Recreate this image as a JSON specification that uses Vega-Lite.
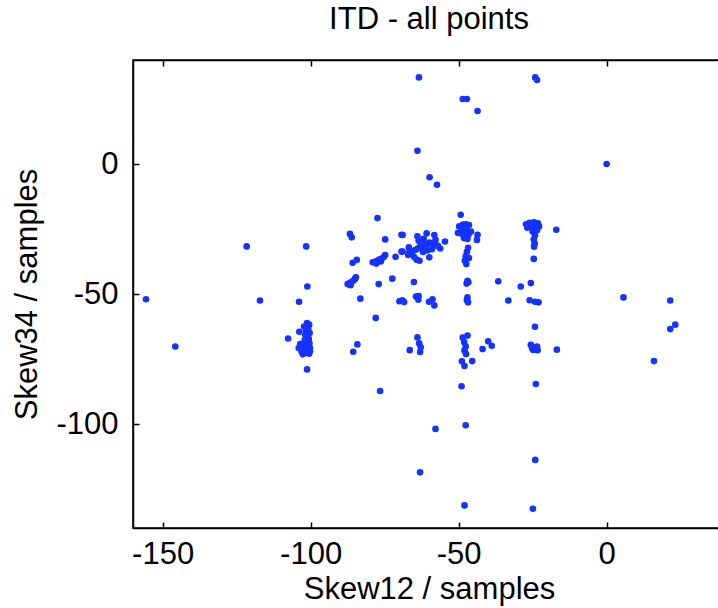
{
  "$schema": "https://vega.github.io/schema/vega-lite/v6.json",
  "autosize": {"type": "none"},
  "padding": {"left": 133, "top": 60, "right": -7, "bottom": 80},
  "width": 592,
  "height": 468,
  "background": "white",
  "config": {
    "view": {"stroke": "black", "strokeWidth": 1.5},
    "font": "Liberation Sans",
    "axis": {"grid": false, "domainColor": "black", "domainWidth": 1.5, "tickColor": "black", "tickWidth": 1.5, "tickSize": -6, "labelColor": "black", "titleColor": "black", "labelFont": "Liberation Sans", "titleFont": "Liberation Sans", "labelFontSize": 31, "titleFontSize": 31, "titleFontWeight": "normal"}
  },
  "title": {"text": "ITD - all points", "font": "Liberation Sans", "fontSize": 31, "fontWeight": "normal", "color": "black", "anchor": "middle", "baseline": "alphabetic", "offset": -1},
  "data": {"values": [
    {"x": -155.6, "y": -52}, {"x": -145.7, "y": -70.2}, {"x": -121.6, "y": -31.7}, {"x": -117.1, "y": -52.5}, {"x": -107.6, "y": -67.1}, {"x": -103.9, "y": -53}, {"x": -101.5, "y": -31.7}, {"x": -101.1, "y": -47.1}, {"x": -101.2, "y": -79},
    {"x": -101.2, "y": -61.2}, {"x": -100.5, "y": -61.8}, {"x": -102.2, "y": -62.5}, {"x": -100.8, "y": -63.2}, {"x": -101.5, "y": -64}, {"x": -103.8, "y": -64.5}, {"x": -100.3, "y": -65}, {"x": -101.8, "y": -65.8}, {"x": -101, "y": -66.5}, {"x": -100.6, "y": -67.3}, {"x": -102, "y": -67.8}, {"x": -101.2, "y": -68.4}, {"x": -100.4, "y": -69}, {"x": -103.5, "y": -69.3}, {"x": -101.8, "y": -69.8}, {"x": -100.9, "y": -70.4}, {"x": -104, "y": -70.8}, {"x": -102.4, "y": -71.2}, {"x": -101, "y": -71.5}, {"x": -100.2, "y": -72}, {"x": -103, "y": -72.3}, {"x": -101.7, "y": -72.6}, {"x": -100.5, "y": -73}, {"x": -102.6, "y": -73.2}, {"x": -101.4, "y": -63.3}, {"x": -100.2, "y": -70.8},
    {"x": -86.7, "y": -26.9}, {"x": -86.1, "y": -28.2}, {"x": -77.4, "y": -20.8}, {"x": -74.8, "y": -29}, {"x": -69.3, "y": -27.2}, {"x": -85.8, "y": -38}, {"x": -84.4, "y": -36.9},
    {"x": -79, "y": -37.8}, {"x": -78.2, "y": -37.6}, {"x": -77.5, "y": -37.2}, {"x": -76.8, "y": -36.8}, {"x": -76, "y": -36.4}, {"x": -75.3, "y": -35.8}, {"x": -74.8, "y": -35}, {"x": -77.8, "y": -38.3}, {"x": -76.3, "y": -37.5},
    {"x": -71.3, "y": -35.7}, {"x": -69.3, "y": -33.7}, {"x": -66.7, "y": -34.2},
    {"x": -87.5, "y": -46.2}, {"x": -86.8, "y": -45.8}, {"x": -86.2, "y": -45.4}, {"x": -85.5, "y": -44.8}, {"x": -85, "y": -44.2}, {"x": -84.7, "y": -43.6}, {"x": -86.5, "y": -46.6},
    {"x": -77, "y": -46.2}, {"x": -72.4, "y": -44.1}, {"x": -65.1, "y": -45.4}, {"x": -83.2, "y": -51.8},
    {"x": -70, "y": -52.8}, {"x": -69, "y": -52.4}, {"x": -68.4, "y": -53.1},
    {"x": -64.4, "y": -51}, {"x": -63.5, "y": -50.8}, {"x": -63.6, "y": -52.2},
    {"x": -60, "y": -53}, {"x": -58.8, "y": -52}, {"x": -58.2, "y": -54.4},
    {"x": -78, "y": -59.2}, {"x": -84.2, "y": -69.4}, {"x": -85.6, "y": -72.2}, {"x": -76.5, "y": -87.3},
    {"x": -63.9, "y": -66.7}, {"x": -66.5, "y": -71.6}, {"x": -63.3, "y": -69}, {"x": -62.8, "y": -70.5}, {"x": -63, "y": -72.3},
    {"x": -63, "y": -118.6}, {"x": -57.8, "y": -101.9}, {"x": -47.6, "y": -100.5}, {"x": -49, "y": -85.5}, {"x": -48, "y": -131.3}, {"x": -24.9, "y": -132.6}, {"x": -24.1, "y": -113.8}, {"x": -23.9, "y": -84.6},
    {"x": -63.4, "y": 33.3}, {"x": -63.9, "y": 5.1}, {"x": -59.8, "y": -5.1}, {"x": -57.3, "y": -8}, {"x": -48.6, "y": 25}, {"x": -47.2, "y": 25}, {"x": -43.6, "y": 20.4}, {"x": -24.1, "y": 33.3}, {"x": -23.5, "y": 32.3}, {"x": 0, "y": 0},
    {"x": -49.3, "y": -19.5},
    {"x": -49.8, "y": -24}, {"x": -48.5, "y": -23.3}, {"x": -47.5, "y": -23.2}, {"x": -46.5, "y": -23.5}, {"x": -50.2, "y": -26.5}, {"x": -49, "y": -26.8}, {"x": -47.8, "y": -27.5}, {"x": -46.6, "y": -27}, {"x": -45.8, "y": -26}, {"x": -48.2, "y": -28.5}, {"x": -47, "y": -28.8}, {"x": -48.8, "y": -25.2}, {"x": -47.2, "y": -25.6},
    {"x": -43.6, "y": -27.2}, {"x": -43.8, "y": -29.2},
    {"x": -46.8, "y": -32.2}, {"x": -47.2, "y": -33.8}, {"x": -47.6, "y": -35.5}, {"x": -47.9, "y": -37.2}, {"x": -47.4, "y": -38.5}, {"x": -46.5, "y": -36.2},
    {"x": -27.2, "y": -23.2}, {"x": -26, "y": -22.6}, {"x": -24.5, "y": -22.4}, {"x": -23.2, "y": -22.8}, {"x": -22.8, "y": -24}, {"x": -26.8, "y": -24.5}, {"x": -25.5, "y": -24.2}, {"x": -24, "y": -24.6}, {"x": -25, "y": -26}, {"x": -24.2, "y": -27.5}, {"x": -24.6, "y": -29}, {"x": -24.3, "y": -30.5}, {"x": -24.5, "y": -31.8}, {"x": -23.5, "y": -25.5},
    {"x": -24.6, "y": -36.5}, {"x": -17, "y": -25.3},
    {"x": -68.9, "y": -27.3}, {"x": -63.9, "y": -27.8}, {"x": -60.8, "y": -26.7}, {"x": -58.2, "y": -27.3}, {"x": -54.6, "y": -29.8}, {"x": -68.9, "y": -33.7}, {"x": -59.9, "y": -35.9},
    {"x": -67, "y": -35}, {"x": -66.2, "y": -34.3}, {"x": -65.5, "y": -33.5}, {"x": -64.5, "y": -33}, {"x": -63.8, "y": -32.5}, {"x": -63, "y": -31.8}, {"x": -62.2, "y": -31.5}, {"x": -61.5, "y": -31}, {"x": -60.5, "y": -30.8}, {"x": -59.8, "y": -30.2}, {"x": -58.8, "y": -30.6}, {"x": -58, "y": -31.2}, {"x": -57, "y": -31.5}, {"x": -56.2, "y": -32.5}, {"x": -65, "y": -35.8}, {"x": -64.2, "y": -36.8}, {"x": -63.2, "y": -37.2}, {"x": -62, "y": -33.8}, {"x": -60.5, "y": -33.2}, {"x": -59, "y": -32.8}, {"x": -57.8, "y": -29.2}, {"x": -63.5, "y": -29.5}, {"x": -61.8, "y": -28.8}, {"x": -66.8, "y": -32},
    {"x": -47, "y": -44.9}, {"x": -47.3, "y": -46}, {"x": -46.7, "y": -45.5}, {"x": -36.6, "y": -45.1}, {"x": -29, "y": -47.1}, {"x": -25.6, "y": -45.8},
    {"x": -47, "y": -51.3}, {"x": -47.2, "y": -52.4}, {"x": -46.8, "y": -53.2}, {"x": -33.2, "y": -52.5}, {"x": -26, "y": -52.4}, {"x": -24.2, "y": -53}, {"x": -23, "y": -53.2}, {"x": -24.2, "y": -62.6},
    {"x": -48.6, "y": -66.8}, {"x": -47, "y": -66}, {"x": -48.1, "y": -68.6}, {"x": -47.6, "y": -70.2}, {"x": -48, "y": -71.7}, {"x": -47.5, "y": -73.1},
    {"x": -48.9, "y": -75.9}, {"x": -48, "y": -77.7}, {"x": -45.4, "y": -75.8},
    {"x": -40, "y": -68.2}, {"x": -38.8, "y": -69.9}, {"x": -41.9, "y": -71.2},
    {"x": -25.6, "y": -69.5}, {"x": -24.5, "y": -70.5}, {"x": -23.5, "y": -70.2}, {"x": -24.8, "y": -71.5}, {"x": -23.3, "y": -71.6}, {"x": -25.2, "y": -70.8}, {"x": -16.8, "y": -71.4},
    {"x": 5.7, "y": -51.3}, {"x": 21.5, "y": -52.5}, {"x": 23.2, "y": -61.8}, {"x": 21.5, "y": -63.5}, {"x": 16, "y": -75.8}
  ]},
  "layer": [
    {
      "mark": {"type": "point", "filled": true, "size": 44, "opacity": 1, "color": "#1433ff"},
      "encoding": {
        "x": {"field": "x", "type": "quantitative", "scale": {"domain": [-160, 40], "nice": false, "zero": false}, "axis": {"title": "Skew12 / samples", "values": [-150, -100, -50, 0], "labelExpr": "datum.value < 0 ? '-' + abs(datum.value) : '' + datum.value", "labelPadding": 41, "labelBaseline": "alphabetic", "titleBaseline": "alphabetic", "titleY": 70}},
        "y": {"field": "y", "type": "quantitative", "scale": {"domain": [-140, 40], "nice": false, "zero": false}, "axis": {"title": "Skew34 / samples", "values": [-100, -50, 0], "labelExpr": "datum.value < 0 ? '-' + abs(datum.value) : '' + datum.value", "labelPadding": 21, "labelBaseline": "middle", "titleBaseline": "alphabetic", "titleAngle": -90, "titleX": -97, "titleY": 234, "titleAlign": "center"}}
      }
    },
    {
      "mark": {"type": "point", "filled": true, "size": 44, "opacity": 0},
      "encoding": {
        "x": {"field": "x", "type": "quantitative", "scale": {"domain": [-160, 40], "nice": false, "zero": false}, "axis": {"orient": "top", "title": null, "labels": false, "values": [-150, -100, -50, 0]}},
        "y": {"field": "y", "type": "quantitative", "scale": {"domain": [-140, 40], "nice": false, "zero": false}, "axis": {"orient": "right", "title": null, "labels": false, "values": [-100, -50, 0]}}
      }
    }
  ],
  "resolve": {"axis": {"x": "independent", "y": "independent"}}
}
